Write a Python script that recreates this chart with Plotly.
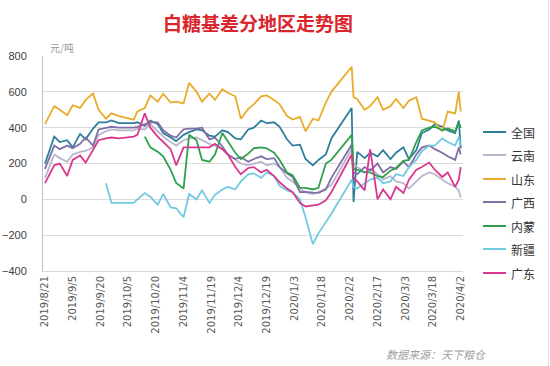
import plotly.graph_objects as go

dates = ["2019-08-21","2019-08-26","2019-08-29","2019-09-02","2019-09-05","2019-09-09","2019-09-12","2019-09-16",
         "2019-09-19","2019-09-23","2019-09-26","2019-09-30","2019-10-08","2019-10-10","2019-10-14","2019-10-17",
         "2019-10-21","2019-10-24","2019-10-28","2019-10-31","2019-11-04","2019-11-07","2019-11-11","2019-11-14",
         "2019-11-18","2019-11-21","2019-11-25","2019-11-28","2019-12-02","2019-12-05","2019-12-09","2019-12-12",
         "2019-12-16","2019-12-19","2019-12-23","2019-12-26","2019-12-30","2020-01-02","2020-01-06","2020-01-09",
         "2020-01-13","2020-01-16","2020-01-20","2020-01-23","2020-02-03","2020-02-04","2020-02-06","2020-02-10",
         "2020-02-13","2020-02-17","2020-02-20","2020-02-24","2020-02-27","2020-03-02","2020-03-05","2020-03-09",
         "2020-03-12","2020-03-16","2020-03-19","2020-03-23","2020-03-26","2020-03-30","2020-04-01","2020-04-02"]

quanguo = [200,350,320,330,290,365,335,395,430,430,440,425,425,430,410,440,
           420,370,345,325,360,375,390,385,355,350,385,375,340,335,390,400,
           440,425,430,405,335,300,305,225,190,220,250,340,510,-15,265,230,
           260,240,275,225,260,290,225,275,370,390,420,405,385,370,440,285]

yunnan = [120,250,230,210,250,265,270,290,360,380,390,385,385,395,390,420,
          380,350,320,300,330,340,345,330,310,300,280,250,220,200,190,200,
          210,190,200,180,120,100,60,40,30,40,60,80,280,200,180,150,
          170,140,110,130,100,90,60,100,130,150,140,110,90,70,50,10]

shandong = [420,520,500,470,525,510,555,590,500,450,480,465,445,490,510,580,
            545,590,540,545,535,650,600,545,590,555,615,595,575,450,505,530,
            575,580,555,530,465,445,460,380,450,440,540,600,740,570,560,500,
            520,570,500,520,560,510,550,570,450,440,430,380,490,480,600,490]

guangxi = [170,300,280,300,285,310,345,300,390,400,405,400,400,405,420,430,
           430,385,355,345,390,395,395,400,335,345,295,250,225,235,210,225,
           240,225,230,180,145,125,40,42,38,36,55,120,305,150,140,180,
           160,200,150,180,170,210,180,250,290,300,280,260,240,220,290,250]

neimeng = [None,None,None,None,None,None,None,None,None,None,None,None,None,None,350,290,
           265,240,165,92,60,360,330,220,210,250,370,320,260,225,255,285,
           290,285,260,220,150,135,65,64,55,64,200,220,360,170,165,150,
           150,130,125,160,175,215,220,320,385,400,405,385,395,380,430,400]

xinjiang = [None,None,None,None,None,None,None,None,None,90,-20,-20,-20,0,35,15,
            -30,30,-45,-50,-100,30,0,50,-20,25,55,70,55,100,140,145,
            120,150,130,75,50,40,0,-100,-250,-190,-130,-80,110,70,60,90,
            110,120,90,100,140,130,180,220,270,300,300,340,320,300,350,300]

guangdong = [90,190,200,130,220,245,205,280,330,340,345,340,350,360,480,400,
             350,320,280,190,290,290,290,290,290,310,280,250,180,140,175,180,
             150,165,130,95,60,40,-20,-40,-35,-30,-5,40,250,120,100,50,
             280,0,55,0,70,35,110,165,180,205,165,125,150,70,110,180]

series_names = ["全国", "云南", "山东", "广西", "内蒙", "新疆", "广东"]
series_values = [quanguo, yunnan, shandong, guangxi, neimeng, xinjiang, guangdong]
series_colors = ["#2E7E9A", "#B9B5CB", "#E9AC2A", "#7F6FA6", "#2FA04C", "#72C9E0", "#D8398E"]

tick_dates = ["2019-08-21","2019-09-05","2019-09-20","2019-10-05","2019-10-20","2019-11-04","2019-11-19",
              "2019-12-04","2019-12-19","2020-01-03","2020-01-18","2020-02-02","2020-02-17","2020-03-03",
              "2020-03-18","2020-04-02"]
tick_labels = ["2019/8/21","2019/9/5","2019/9/20","2019/10/5","2019/10/20","2019/11/4","2019/11/19",
               "2019/12/4","2019/12/19","2020/1/3","2020/1/18","2020/2/2","2020/2/17","2020/3/3",
               "2020/3/18","2020/4/2"]

W, H = 550, 366
L, R, T, B = 43, 463, 56, 271

def px(x):
    return (x - L) / (R - L)

def py(y):
    return (B - y) / (B - T)

fig = go.Figure()
for name, vals, col in zip(series_names, series_values, series_colors):
    fig.add_trace(go.Scatter(x=dates, y=vals, name=name, mode="lines",
                             line=dict(color=col, width=1.8), connectgaps=False,
                             showlegend=False))

cjk = "Noto Sans CJK SC"
annotations = [
    dict(text="<b>白糖基差分地区走势图</b>", x=px(258), y=py(23), xref="paper", yref="paper",
         showarrow=False, xanchor="center", yanchor="middle",
         font=dict(family=cjk, size=19, color="#D9262C")),
    dict(text="元/吨", x=px(62), y=py(47), xref="paper", yref="paper",
         showarrow=False, xanchor="center", yanchor="middle",
         font=dict(family=cjk, size=10, color="#9A9A9A")),
    dict(text="<i>数据来源：天下粮仓</i>", x=px(436), y=py(354), xref="paper", yref="paper",
         showarrow=False, xanchor="center", yanchor="middle",
         font=dict(family=cjk, size=11, color="#A0A0A0")),
]
shapes = []
legend_rows = [132, 155, 179, 202, 226, 249, 273]
for name, col, ry in zip(series_names, series_colors, legend_rows):
    shapes.append(dict(type="line", xref="paper", yref="paper",
                       x0=px(483), x1=px(506), y0=py(ry), y1=py(ry),
                       line=dict(color=col, width=2)))
    annotations.append(dict(text=name, x=px(509), y=py(ry), xref="paper", yref="paper",
                            showarrow=False, xanchor="left", yanchor="middle",
                            font=dict(family=cjk, size=12, color="#333333")))
shapes.append(dict(type="line", xref="paper", yref="paper", x0=px(548.5), x1=px(548.5),
                   y0=py(0), y1=py(366), line=dict(color="#DDDDDD", width=1)))

fig.update_layout(
    width=W, height=H,
    margin=dict(l=L, r=W - R, t=T, b=H - B),
    paper_bgcolor="white", plot_bgcolor="white",
    annotations=annotations, shapes=shapes,
    xaxis=dict(type="date", range=["2019-08-19 22:00", "2020-04-03 06:00"],
               tickvals=tick_dates, ticktext=tick_labels, tickangle=-90,
               tickfont=dict(family="DejaVu Sans", size=10, color="#595959"),
               showgrid=False, showline=True, linecolor="#D9D9D9", zeroline=False,
               ticks="", automargin=False),
    yaxis=dict(range=[-400, 800], dtick=200, tick0=0,
               tickfont=dict(family="Liberation Sans", size=11, color="#404040"),
               gridcolor="#DCDCDC", gridwidth=1, zeroline=False,
               showline=True, linecolor="#BFBFBF", ticks="", ticklabelstandoff=13,
               automargin=False),
)

fig.write_html("out.html")
